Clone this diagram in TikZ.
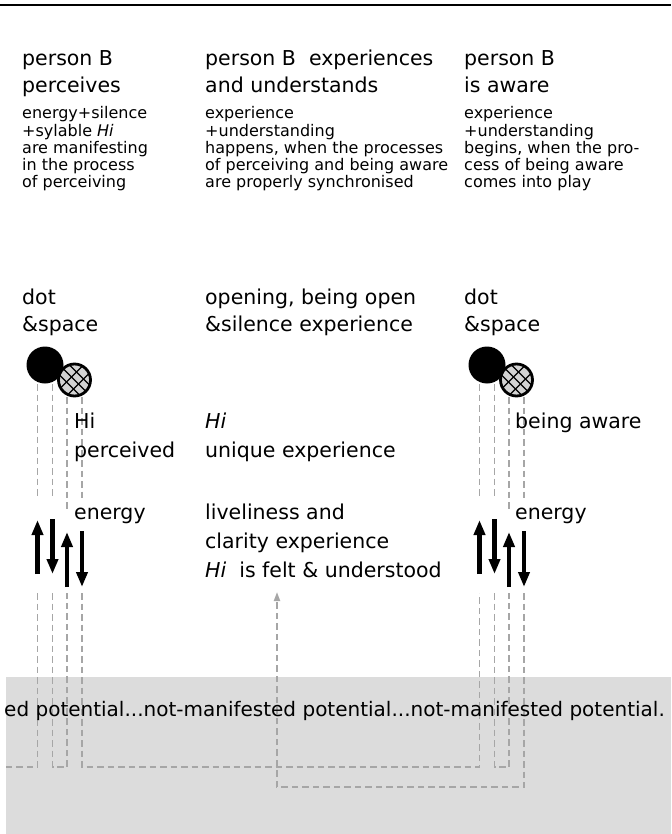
\documentclass[tikz,border=0pt]{standalone}
\usepackage{fontspec}
\setmainfont{DejaVu Sans}
\usetikzlibrary{arrows.meta}
\definecolor{bandgray}{RGB}{220,220,220}
\definecolor{linkgray}{RGB}{166,166,166}

\begin{document}
\begin{tikzpicture}[x=1pt,y=-1pt,
    head/.style={font=\fontsize{20.5}{27}\selectfont,anchor=base west,align=left,inner sep=0pt},
    note/.style={head,font=\fontsize{20.5}{29}\selectfont},
    body/.style={font=\fontsize{16}{17.25}\selectfont,anchor=base west,align=left,inner sep=0pt},
    dot/.style={circle,fill=black,minimum size=37pt,inner sep=0pt},
    hatched/.style={circle,draw,line width=2.8pt,fill=gray!35,minimum size=32pt,inner sep=0pt,
        path picture={
            \foreach \d in {-10,0,10}
                \draw[line width=1.3pt] ([xshift=\d pt]path picture bounding box.center) ++(-20,-20) -- ++(40,40);
            \foreach \d in {-6,8}
                \draw[line width=1.3pt] ([xshift=\d pt]path picture bounding box.center) ++(-20,20) -- ++(40,-40);
        }},
    link/.style={draw=linkgray,line width=1.9pt,dash pattern=on 6.5pt off 4pt},
    flow/.style={line width=4.5pt,-{Triangle[width=11pt,length=15pt]}}]
    \clip (0,0) rectangle (671,834);
    \fill[bandgray] (6,677) rectangle (671,834);
    \draw[line width=2.5pt] (0,5) -- (671,5);

    % multi-line nodes sit on the baseline of their last line
    \node[head] (percHead) at (22,93) {person B\\perceives};
    \node[body] (percText) at (22,188) {energy+silence\\+sylable \textit{Hi}\\are manifesting\\in the process\\of perceiving};
    \node[head] (expHead) at (205,93) {person B\ \ experiences\\and understands};
    \node[body] (expText) at (205,188) {experience\\+understanding\\happens, when the processes\\of perceiving and being aware\\are properly synchronised};
    \node[head] (awHead) at (464,93) {person B\\is aware};
    \node[body] (awText) at (464,188) {experience\\+understanding\\begins, when the pro-\\cess of being aware\\comes into play};

    \node[head] (dotSpaceL) at (22,331) {dot\\\&space};
    \node[head] (opening) at (205,331) {opening, being open\\\&silence experience};
    \node[head] (dotSpaceR) at (464,331) {dot\\\&space};

    % the two dot & space groups
    \foreach \g/\x in {L/45,R/487}{
        \foreach \i/\dx/\t/\m in {1/-7.5/384/499,2/7.5/384/499,3/22/397/510,4/37/397/499}{
            \coordinate (\g\i top) at (\x+\dx,\t);
            \coordinate (\g\i mid) at (\x+\dx,\m);
            \coordinate (\g\i low) at (\x+\dx,593);
            \coordinate (\g\i end) at (\x+\dx,767);
            \draw[link] (\g\i top) -- (\g\i mid);
        }
        \draw[flow] (\x-7.5,574) -- (\x-7.5,520);
        \draw[flow] (\x+7.5,519) -- (\x+7.5,574);
        \draw[flow] (\x+22,587) -- (\x+22,532);
        \draw[flow] (\x+37,531) -- (\x+37,587);
        \node[dot] (dot\g) at (\x,365) {};
        \node[hatched] (space\g) at (\x+29.5,380) {};
    }

    \coordinate (bandEdge) at (6,767);
    \coordinate (R4turn) at (524,787);
    \coordinate (feltTip) at (277,592);
    \draw[link] (L1low) |- (bandEdge);
    \draw[link] (L2low) |- (L3end) -- (L3low);
    \draw[link] (L4low) |- (R1end) -- (R1low);
    \draw[link] (R2low) |- (R3end) -- (R3low);
    \draw[link,-{Triangle[width=6pt,length=9pt]}] (R4low) -- (R4turn) -| (feltTip);

    \node[note] (hiL) at (74,457) {Hi\\perceived};
    \node[note] (energyL) at (74,519) {energy};
    \node[note] (hiMid) at (205,457) {\textit{Hi}\\unique experience};
    \node[note] (lively) at (205,577) {liveliness and\\clarity experience\\\textit{Hi}\ \ is felt \& understood};
    \node[note] (awareR) at (515,428) {being aware};
    \node[note] (energyR) at (515,519) {energy};
    \node[head,font=\fontsize{20}{27}\selectfont,anchor=base east] (potential) at (665,716) {ed potential...not-manifested potential...not-manifested potential.};
\end{tikzpicture}
\end{document}
